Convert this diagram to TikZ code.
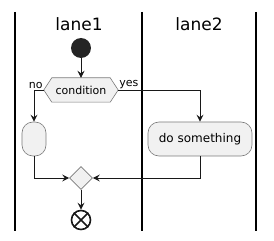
\documentclass[tikz,border=0pt]{standalone}
\usepackage{fontspec}
\setmainfont{DejaVu Sans}
\usetikzlibrary{arrows.meta,shapes.geometric}
\definecolor{fond}{HTML}{F1F1F1}
\definecolor{bord}{HTML}{7A7A7A}
\definecolor{trait}{HTML}{181818}
\tikzset{
  fleche/.style={draw=trait, line width=0.9pt, -{Stealth[length=7pt,width=7pt,inset=2.5pt]}},
  activite/.style={draw=bord, fill=fond, line width=0.6pt, rounded corners=11pt, minimum height=34pt, inner sep=0pt, font=\fontsize{12}{14}\selectfont},
  etiquette/.style={inner sep=1pt, font=\fontsize{11}{13}\selectfont},
  titre/.style={font=\fontsize{17}{20}\selectfont}
}
\begin{document}
\begin{tikzpicture}[x=1pt,y=-1pt]
    \useasboundingbox (0,0) rectangle (274,241);
    % couloirs
    \draw[line width=1.3pt] (15,12) -- (15,231);
    \draw[line width=1.3pt] (142,12) -- (142,231);
    \draw[line width=1.3pt] (256,12) -- (256,231);
    \node[titre] (titreA) at (79,24) {lane1};
    \node[titre] (titreB) at (199,24) {lane2};
    % depart
    \node[circle, fill=trait!95!white, minimum size=20pt, inner sep=0pt] (debut) at (81,48) {};
    % condition (hexagone)
    \node[minimum width=74pt, minimum height=24pt, inner sep=0pt, font=\fontsize{11}{13}\selectfont] (cond) at (81,90) {};
    \filldraw[draw=bord, fill=fond, line width=0.6pt] (cond.west) -- ([xshift=8pt]cond.north west) -- ([xshift=-8pt]cond.north east)
        -- (cond.east) -- ([xshift=-8pt]cond.south east) -- ([xshift=8pt]cond.south west) -- cycle;
    \node[font=\fontsize{11}{13}\selectfont] (condtexte) at (cond) {condition};
    % actions
    \node[activite, minimum width=24pt] (gauche) at (34,139) {};
    \node[activite, minimum width=104pt] (action) at (200,139) {do something};
    % fusion
    \node[diamond, draw=bord, fill=fond, line width=0.6pt, minimum width=23pt, minimum height=23pt, inner sep=0pt] (fusion) at (81,178) {};
    % fin
    \node[circle, draw=trait, line width=1.6pt, minimum size=19pt, inner sep=0pt] (fin) at (81,220) {};
    \draw[trait, line width=1.6pt] (fin.north east) -- (fin.south west);
    \draw[trait, line width=1.6pt] (fin.north west) -- (fin.south east);
    % liaisons
    \draw[fleche] (debut) -- (cond);
    \draw[fleche] (cond.west) -| (gauche.north);
    \node[etiquette, anchor=south east] (non) at (cond.west) {no};
    \draw[fleche] (cond.east) -| (action.north);
    \node[etiquette, anchor=south west] (oui) at (cond.east) {yes};
    \draw[fleche] (gauche.south) |- (fusion.west);
    \draw[fleche] (action.south) |- (fusion.east);
    \draw[fleche] (fusion.south) -- (fin.north);
\end{tikzpicture}
\end{document}
